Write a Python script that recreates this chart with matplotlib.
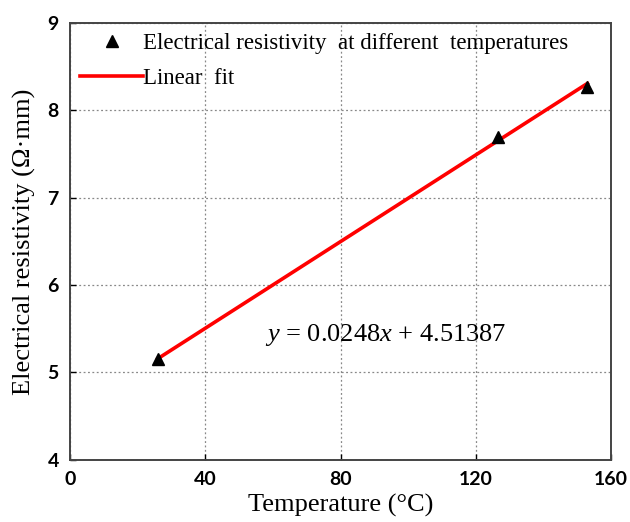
import numpy as np
import matplotlib
matplotlib.use("Agg")
import matplotlib.pyplot as plt

# 不同温度下的电阻率
temperature = [26, 126.5, 153]
resistivity = [5.16, 7.70, 8.27]

# 线性拟合参数
slope = 0.0248
intercept = 4.51387

x_ticks = [0, 40, 80, 120, 160]
y_ticks = [4, 5, 6, 7, 8, 9]

serif = "Liberation Serif"
tick_font = "Lato"

plt.rcParams["mathtext.fontset"] = "custom"
plt.rcParams["mathtext.rm"] = serif
plt.rcParams["mathtext.it"] = serif + ":italic"

fig, ax = plt.subplots(figsize=(6.3, 5.22), dpi=100)
fig.subplots_adjust(left=0.111, right=0.970, top=0.956, bottom=0.119)

ax.plot(temperature, resistivity, linestyle="none", marker="^", color="black",
        markersize=9, label="Electrical resistivity  at different  temperatures", zorder=3)

x_fit = np.array([min(temperature), max(temperature)])
ax.plot(x_fit, slope * x_fit + intercept, color="red", linewidth=2.6,
        label="Linear  fit", zorder=2)

ax.text(93.3, 5.43, "$y$ = 0.0248$x$ + 4.51387", ha="center", va="center",
        fontsize=19, family=serif)

ax.set_xlim(0, 160)
ax.set_ylim(4, 9)
ax.set_xticks(x_ticks)
ax.set_yticks(y_ticks)
ax.grid(True, linestyle=(0, (1.5, 2)), color="#888888", linewidth=0.9)
ax.tick_params(direction="in", length=4, width=1, labelsize=14, pad=8)
for lab in ax.get_xticklabels() + ax.get_yticklabels():
    lab.set_family(tick_font)
    lab.set_weight("bold")
for sp in ax.spines.values():
    sp.set_color("#444444")
    sp.set_linewidth(1.4)

ax.set_xlabel("Temperature (°C)", fontsize=19, family=serif, labelpad=4)
ax.set_ylabel("Electrical resistivity (Ω·mm)", fontsize=19, family=serif, labelpad=8)

ax.legend(loc="upper left", frameon=False, prop={"family": serif, "size": 16.5},
          handlelength=2.75, handletextpad=0.0, borderaxespad=0.1, labelspacing=0.6,
          borderpad=0.35)

plt.savefig("out.png", dpi=100)
